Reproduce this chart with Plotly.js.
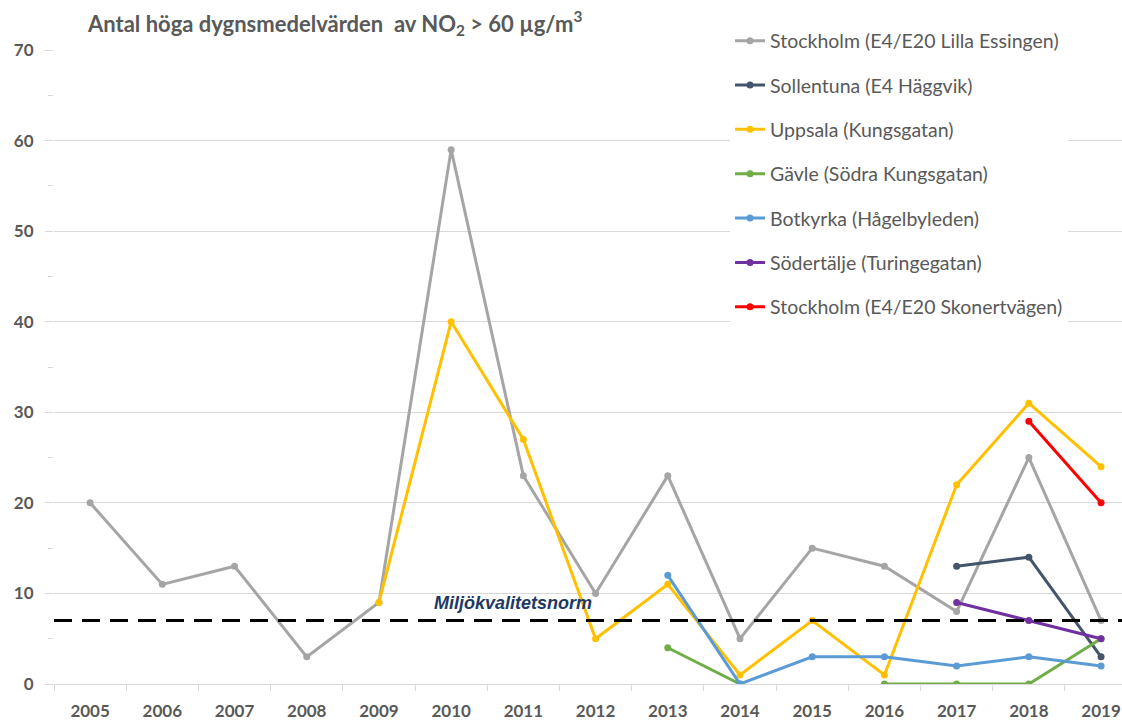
<!DOCTYPE html>
<html>
<head>
<meta charset="utf-8">
<script src="https://cdn.plot.ly/plotly-3.0.1.min.js"></script>
<style>html,body{margin:0;padding:0;background:#fff;overflow:hidden}#chart{width:1122px;height:722px}</style>
</head>
<body>
<div id="chart"></div>
<script>
const years = ["2005","2006","2007","2008","2009","2010","2011","2012","2013","2014","2015","2016","2017","2018","2019"];
const stockholmEssingen = [20, 11, 13, 3, 9, 59, 23, 10, 23, 5, 15, 13, 8, 25, 7];
const sollentuna = [null, null, null, null, null, null, null, null, null, null, null, null, 13, 14, 3];
const uppsala = [null, null, null, null, 9, 40, 27, 5, 11, 1, 7, 1, 22, 31, 24];
const gavle = [null, null, null, null, null, null, null, null, 4, 0, null, 0, 0, 0, 5];
const botkyrka = [null, null, null, null, null, null, null, null, 12, 0, 3, 3, 2, 3, 2];
const sodertalje = [null, null, null, null, null, null, null, null, null, null, null, null, 9, 7, 5];
const stockholmSkonert = [null, null, null, null, null, null, null, null, null, null, null, null, null, 29, 20];
const seriesNames = [
  "Stockholm (E4/E20 Lilla Essingen)",
  "Sollentuna (E4 Häggvik)",
  "Uppsala (Kungsgatan)",
  "Gävle (Södra Kungsgatan)",
  "Botkyrka (Hågelbyleden)",
  "Södertälje (Turingegatan)",
  "Stockholm (E4/E20 Skonertvägen)"
];
const seriesValues = [stockholmEssingen, sollentuna, uppsala, gavle, botkyrka, sodertalje, stockholmSkonert];
const seriesColors = ["#a5a5a5", "#44546a", "#ffc000", "#70ad47", "#5b9bd5", "#7030a0", "#ff0000"];
const normValue = 7;
const normLabel = "Miljökvalitetsnorm";
const normLabelYear = "2012";
const yTicks = [0, 10, 20, 30, 40, 50, 60, 70];

const FONT = "Lato, 'Open Sans', sans-serif";

const traces = seriesValues.map((vals, i) => ({
  type: "scatter",
  mode: "lines+markers",
  x: years,
  y: vals,
  name: seriesNames[i],
  legendgroup: "g" + i,
  line: {color: seriesColors[i], width: 3},
  marker: {color: seriesColors[i], size: 7},
  connectgaps: false,
  hoverinfo: "x+y+name"
}));

const layout = {
  width: 1122,
  height: 722,
  margin: {l: 54, r: 0, t: 50, b: 38, pad: 0},
  paper_bgcolor: "#ffffff",
  plot_bgcolor: "#ffffff",
  showlegend: true,
  title: {
    text: "<b>Antal höga dygnsmedelvärden  av NO<sub>2</sub> > 60 µg/m<sup>3</sup></b>",
    x: 88 / 1122,
    xanchor: "left",
    xref: "container",
    y: 1 - 24 / 722,
    yanchor: "middle",
    yref: "container",
    font: {family: FONT, size: 22, color: "#595959"}
  },
  xaxis: {
    type: "category",
    categoryorder: "array",
    categoryarray: years,
    range: [-0.5, 14.29],
    showgrid: false,
    zeroline: false,
    showline: true,
    linecolor: "#d9d9d9",
    linewidth: 1,
    ticks: "outside",
    tickson: "boundaries",
    ticklen: 6,
    tickcolor: "#d9d9d9",
    tickwidth: 1,
    ticklabelstandoff: 12,
    tickfont: {family: FONT, size: 17, color: "#595959", weight: "bold"},
    fixedrange: true
  },
  yaxis: {
    range: [0, 70],
    tickvals: yTicks,
    showgrid: true,
    gridcolor: "#d9d9d9",
    gridwidth: 1,
    zeroline: false,
    showline: false,
    ticks: "outside",
    ticklen: 8,
    tickcolor: "#d9d9d9",
    tickwidth: 1,
    ticklabelstandoff: 8,
    minor: {dtick: 5, ticks: "outside", ticklen: 5, tickcolor: "#d9d9d9", showgrid: false},
    tickfont: {family: FONT, size: 17, color: "#595959", weight: "bold"},
    fixedrange: true
  },
  legend: {
    x: 0.633,
    xanchor: "left",
    y: 1.045,
    yanchor: "top",
    bgcolor: "#ffffff",
    borderwidth: 0,
    traceorder: "grouped",
    tracegroupgap: 16,
    itemwidth: 30,
    font: {family: FONT, size: 19.5, color: "#595959"}
  },
  shapes: [{
    type: "line",
    xref: "paper",
    yref: "y",
    x0: 0,
    x1: 1,
    y0: normValue,
    y1: normValue,
    line: {color: "#000000", width: 3, dash: "18px,10px"},
    layer: "above"
  }],
  annotations: [{
    text: "<b><i>" + normLabel + "</i></b>",
    xref: "x",
    yref: "y",
    x: years.indexOf(normLabelYear),
    y: normValue,
    xanchor: "right",
    yanchor: "bottom",
    xshift: -2,
    yshift: 6,
    showarrow: false,
    font: {family: "'Liberation Sans', Arial, sans-serif", size: 18, color: "#203864"}
  }]
};

Plotly.newPlot("chart", traces, layout, {displayModeBar: false, staticPlot: true});
</script>
</body>
</html>
